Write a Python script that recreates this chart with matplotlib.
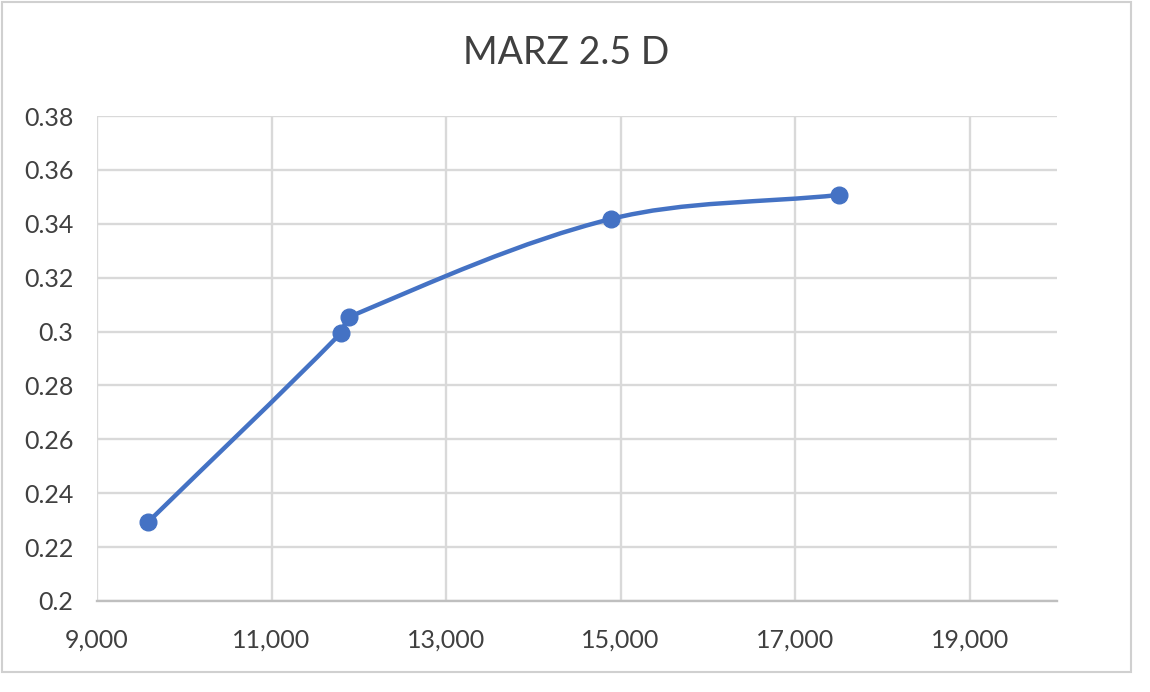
import matplotlib
matplotlib.use("Agg")
import matplotlib.pyplot as plt
from matplotlib.path import Path
from matplotlib.patches import PathPatch, Rectangle
from matplotlib.ticker import FuncFormatter
import numpy as np

# ---- data ----
title = "MARZ 2.5 D"
x_vals = [9585, 11797, 11888, 14891, 17504]
y_vals = [0.2293, 0.2995, 0.3054, 0.3418, 0.3507]
x_ticks = [9000, 11000, 13000, 15000, 17000, 19000]
y_ticks = [0.2, 0.22, 0.24, 0.26, 0.28, 0.3, 0.32, 0.34, 0.36, 0.38]

LINE = "#4472C4"
TXT = "#404040"
GRID = "#d9d9d9"
FONT = ["Lato", "DejaVu Sans"]

fig = plt.figure(figsize=(11.5, 6.92), dpi=100)
fig.patch.set_facecolor("white")
# chart border
fig.patches.append(Rectangle((2 / 1150, 1 - 672 / 692), 1129 / 1150, 670 / 692,
                             transform=fig.transFigure, fill=False,
                             edgecolor="#d0d0d0", linewidth=1.5))

ax = fig.add_axes([97 / 1150, (692 - 601) / 692, (1057 - 97) / 1150, (601 - 116) / 692])
ax.set_xlim(9000, 20000)
ax.set_ylim(0.2, 0.38)
ax.set_xticks(x_ticks)
ax.set_yticks(y_ticks)
ax.xaxis.set_major_formatter(FuncFormatter(lambda v, p: f"{int(round(v)):,}"))
ax.yaxis.set_major_formatter(FuncFormatter(lambda v, p: f"{v:.2f}".rstrip("0").rstrip(".")))
ax.grid(True, color=GRID, linewidth=1.7)
ax.set_axisbelow(True)
for s in ["top", "right", "left"]:
    ax.spines[s].set_visible(False)
ax.spines["bottom"].set_color("#bfbfbf")
ax.spines["bottom"].set_linewidth(1.7)
ax.tick_params(length=0, labelsize=18, labelcolor=TXT)
ax.tick_params(axis="y", pad=17)
ax.tick_params(axis="x", pad=20)
for lab in ax.get_xticklabels() + ax.get_yticklabels():
    lab.set_family(FONT)

# Excel-style smoothed line: distance-weighted Bezier in pixel space
pts = ax.transData.transform(np.column_stack([x_vals, y_vals]).astype(float))
n = len(pts)
verts = [tuple(pts[0])]
codes = [Path.MOVETO]
for i in range(n - 1):
    p0 = pts[i - 1] if i > 0 else pts[i]
    p1 = pts[i]
    p2 = pts[i + 1]
    p3 = pts[i + 2] if i + 2 < n else pts[i + 1]
    d01 = np.hypot(*(p1 - p0))
    d12 = np.hypot(*(p2 - p1))
    d23 = np.hypot(*(p3 - p2))
    f1 = d12 / (d01 + d12) / 3.0 if (d01 + d12) > 0 else 0
    f2 = d12 / (d12 + d23) / 3.0 if (d12 + d23) > 0 else 0
    c1 = p1 + (p2 - p0) * f1
    c2 = p2 - (p3 - p1) * f2
    verts += [tuple(c1), tuple(c2), tuple(p2)]
    codes += [Path.CURVE4] * 3
inv = ax.transData.inverted()
verts = [tuple(inv.transform(v)) for v in verts]
ax.add_patch(PathPatch(Path(verts, codes), facecolor="none", edgecolor=LINE,
                       linewidth=3.2, capstyle="round", joinstyle="round", zorder=3))
ax.plot(x_vals, y_vals, linestyle="none", marker="o", markersize=12,
        color=LINE, zorder=4)

fig.text(566.5 / 1150, 1 - 53 / 692, title, ha="center", va="center",
         fontsize=27, color=TXT, family=FONT)

fig.savefig("out.png", dpi=100, facecolor="white")
